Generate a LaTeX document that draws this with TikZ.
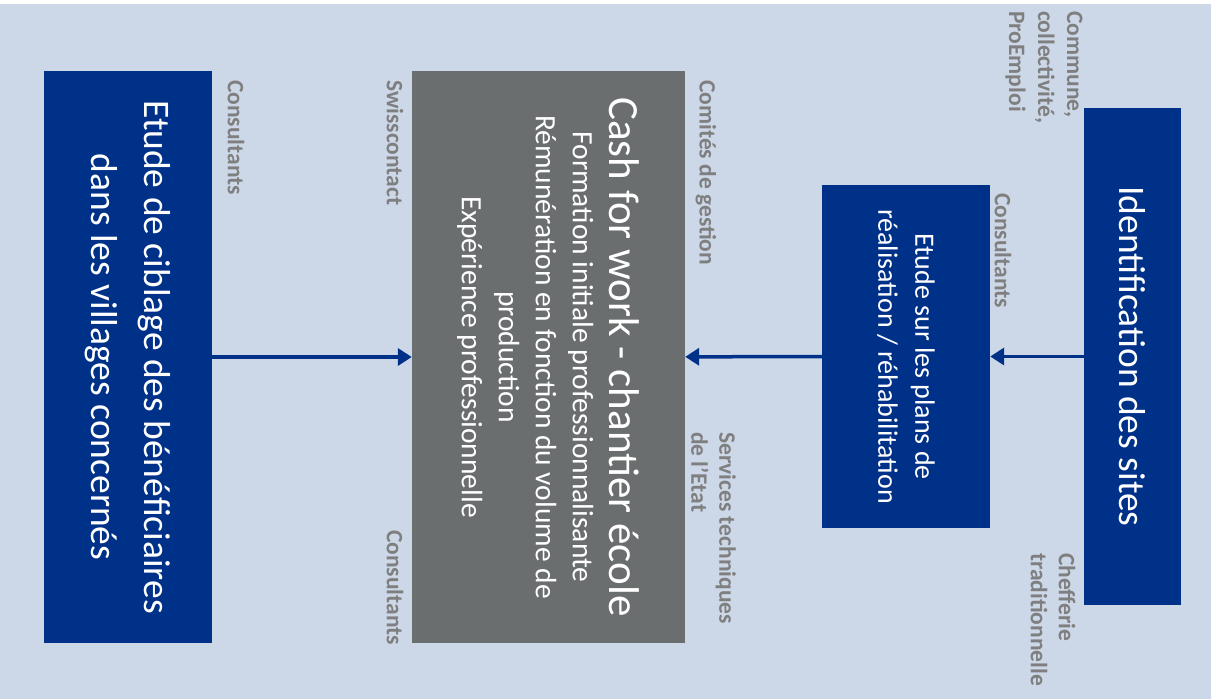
\documentclass[tikz,border=0pt]{standalone}
\usepackage{fontspec}
\setmainfont{Carlito}
\usetikzlibrary{arrows.meta}
\definecolor{fondbleu}{HTML}{CCD7E8}
\definecolor{bleufonce}{HTML}{003189}
\definecolor{grisboite}{HTML}{6B6E6F}
\definecolor{grisacteur}{HTML}{7F7F7F}

\begin{document}
\begin{tikzpicture}[x=1pt,y=-1pt,
    boite/.style={rotate=-90, text=white, align=center, inner sep=0pt},
    acteur/.style={rotate=-90, text=grisacteur, font=\bfseries\fontsize{23.5}{28}\selectfont, align=left, inner sep=0pt, anchor=west},
    fleche/.style={draw=bleufonce, line width=3.5pt, -{Triangle[length=14pt,width=17pt]}}]

    \useasboundingbox (0,0) rectangle (1217,699);
    \fill [fondbleu] (0,4) rectangle (1211,699);

    % les quatre etapes
    \node [boite, fill=bleufonce, minimum width=572pt, minimum height=168pt, font=\fontsize{37.5}{53}\selectfont] (ciblage) at (128,357) {Etude de ciblage des bénéficiaires\\dans les villages concernés};
    \node [boite, fill=grisboite, minimum width=572pt, minimum height=273pt, font=\fontsize{29.5}{37}\selectfont] (chantier) at (548.5,357) {{\fontsize{43}{41}\selectfont Cash for work - chantier école}\\Formation initiale professionnalisante\\Rémunération en fonction du volume de\\production\\Expérience professionnelle};
    \node [boite, fill=bleufonce, minimum width=343pt, minimum height=168pt, font=\fontsize{28}{37}\selectfont] (plans) at (906,356.5) {Etude sur les plans de\\réalisation / réhabilitation};
    \node [boite, fill=bleufonce, minimum width=497pt, minimum height=97pt, font=\fontsize{37.5}{40}\selectfont] (sites) at (1132.5,356.5) {Identification des sites};

    \draw [fleche] (ciblage) -- (chantier);
    \draw [fleche] (plans) -- (chantier);
    \draw [fleche] (sites) -- (plans);

    % les acteurs
    \node [acteur] (consultantsA) at (236,80) {Consultants};
    \node [acteur] (swisscontact) at (395,80) {Swisscontact};
    \node [acteur] (consultantsB) at (395,530) {Consultants};
    \node [acteur] (comites) at (706,80) {Comités de gestion};
    \node [acteur] (services) at (713.5,432) {Services techniques\\de l’Etat};
    \node [acteur] (consultantsC) at (1003,193) {Consultants};
    \node [acteur, font=\bfseries\fontsize{23.5}{29}\selectfont] (commune) at (1044,11) {Commune,\\collectivité,\\ProEmploi};
    \node [acteur] (chefferie) at (1053,553) {Chefferie\\traditionnelle};

\end{tikzpicture}
\end{document}
